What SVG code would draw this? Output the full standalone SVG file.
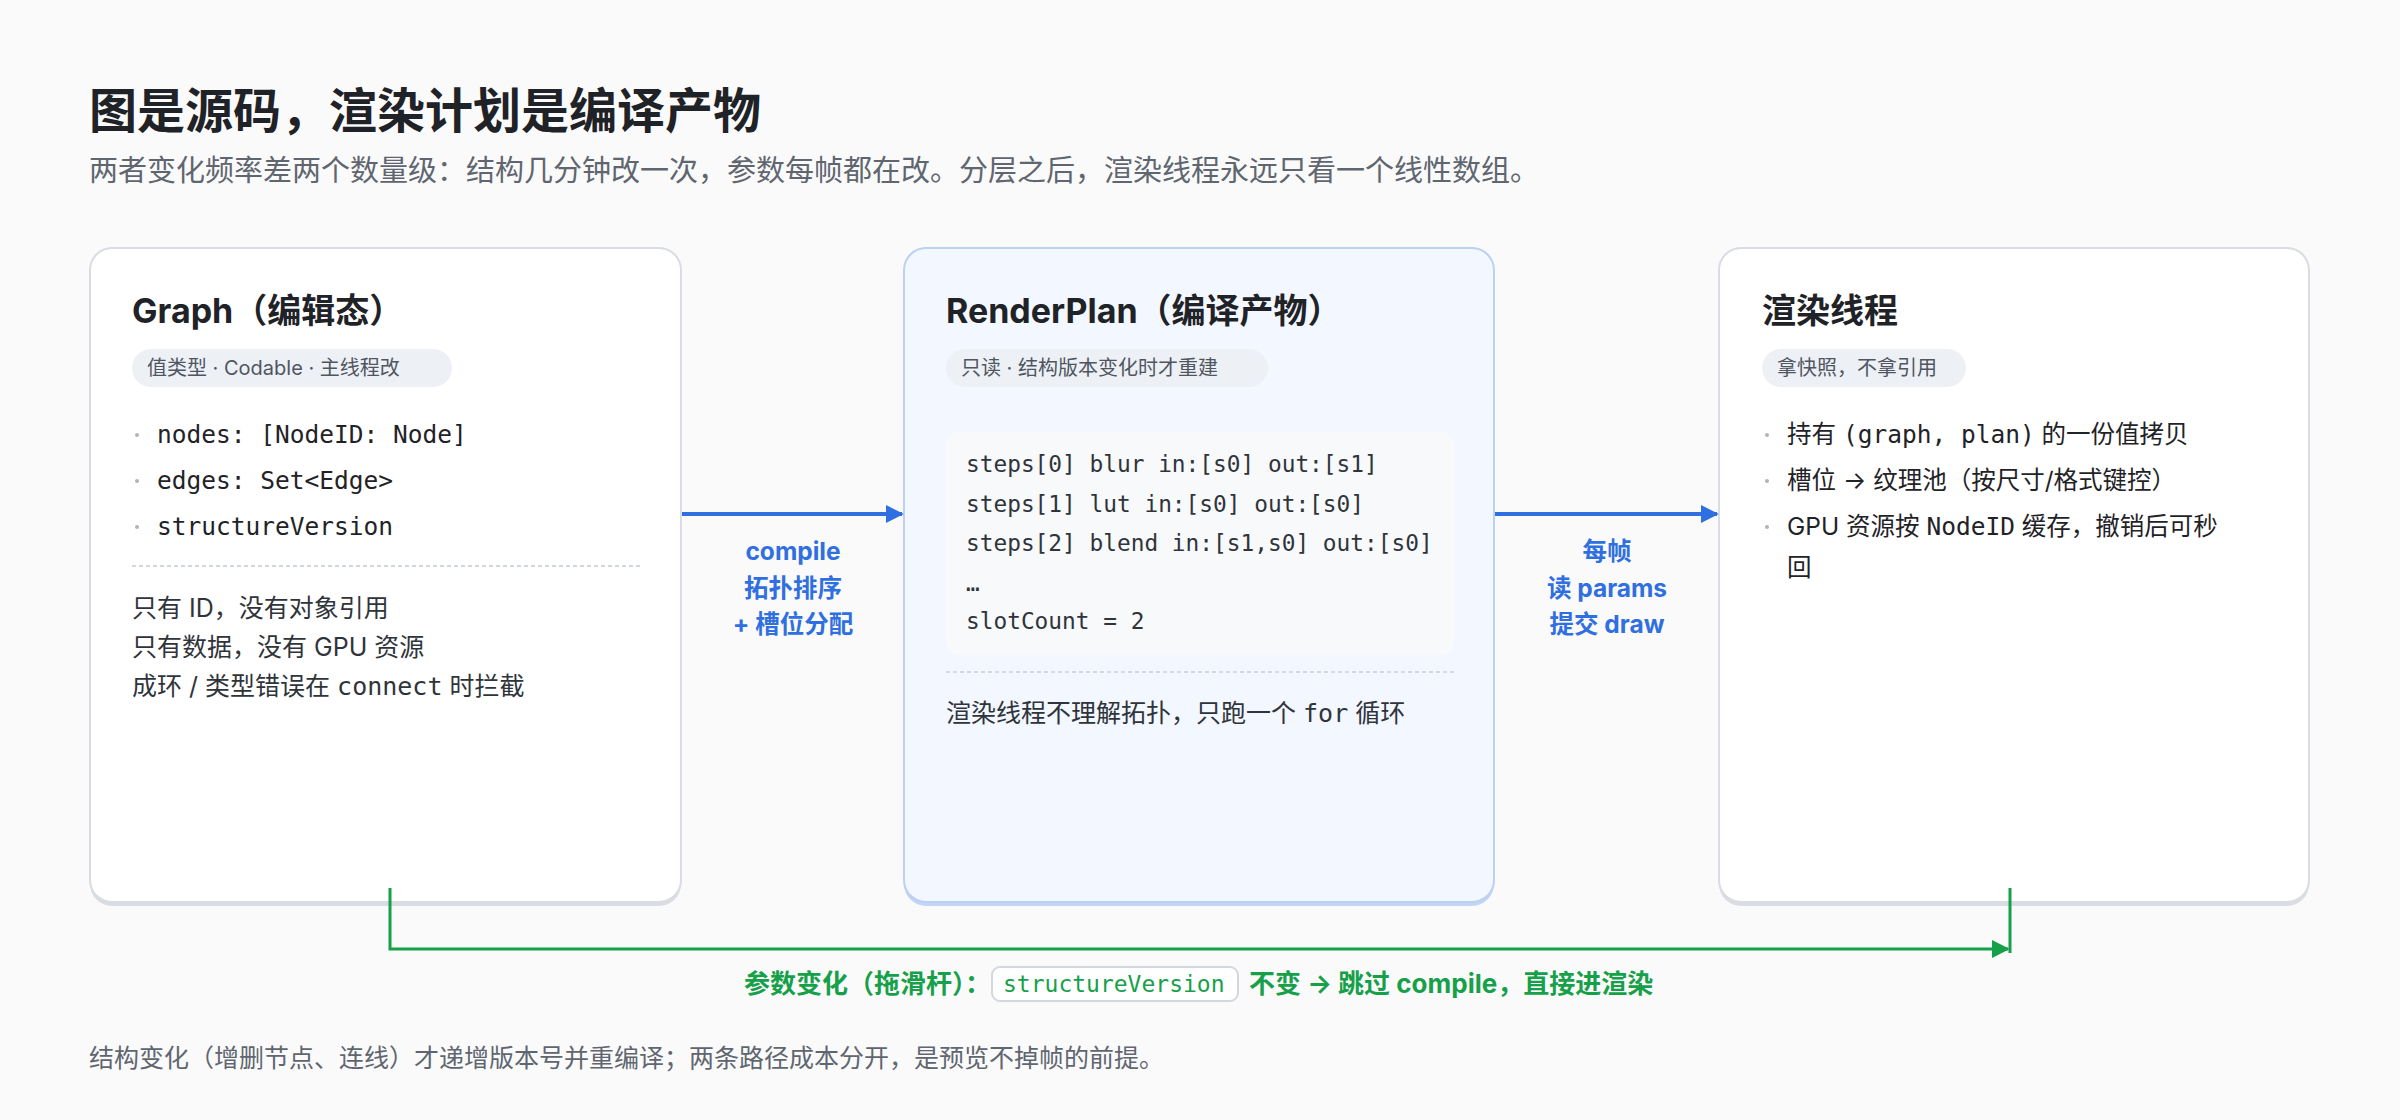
<svg xmlns="http://www.w3.org/2000/svg" width="2400" height="1120" viewBox="0 0 2400 1120">
<style>
.sans{font-family:Inter,"Noto Sans CJK SC",sans-serif}
.mono{font-family:"DejaVu Sans Mono","Noto Sans CJK SC",monospace}
.h{font-size:34px;font-weight:700;fill:#1f2328}
.pill{fill:#edf0f5}
.pt{font-size:20px;fill:#4f5662}
.b{font-size:24.5px;fill:#1f2328}
.dot{fill:#b0b5bd}
.note{font-size:25px;fill:#2f343b}
.code{font-size:22.8px;fill:#2f343b}
.sep{stroke:#d3d7de;stroke-width:2;stroke-dasharray:4 3}
.bl{font-size:24.5px;font-weight:700;fill:#2f6fe0;text-anchor:middle}
.gl{font-size:26px;font-weight:700;fill:#16a04a}
</style>
<defs>
<marker id="ab" viewBox="0 0 10 10" refX="9" refY="5" markerWidth="18" markerHeight="18" markerUnits="userSpaceOnUse" orient="auto"><path d="M0 0L10 5L0 10z" fill="#2f6fe0"/></marker>
<marker id="ag" viewBox="0 0 10 10" refX="9" refY="5" markerWidth="18" markerHeight="18" markerUnits="userSpaceOnUse" orient="auto"><path d="M0 0L10 5L0 10z" fill="#16a04a"/></marker>
</defs>
<rect width="2400" height="1120" fill="#fafafa"/>
<text x="89" y="128" class="sans" font-size="48" font-weight="700" fill="#1f2328">图是源码，渲染计划是编译产物</text>
<text x="89" y="181" class="sans" font-size="29" fill="#5f6670">两者变化频率差两个数量级：结构几分钟改一次，参数每帧都在改。分层之后，渲染线程永远只看一个线性数组。</text>

<g id="graph">
<rect x="90" y="252" width="591" height="654" rx="22" fill="#d9dce3"/>
<rect x="90" y="248" width="591" height="654" rx="22" fill="#fff" stroke="#d9dce3" stroke-width="2"/>
<text x="132" y="323" class="sans h">Graph（编辑态）</text>
<rect x="132" y="349" width="320" height="38" rx="19" class="pill"/>
<text x="147" y="375" class="sans pt">值类型 · Codable · 主线程改</text>
<circle cx="137" cy="435" r="2" class="dot"/><text x="157" y="443" class="mono b">nodes: [NodeID: Node]</text>
<circle cx="137" cy="481" r="2" class="dot"/><text x="157" y="489" class="mono b">edges: Set&lt;Edge&gt;</text>
<circle cx="137" cy="527" r="2" class="dot"/><text x="157" y="535" class="mono b">structureVersion</text>
<line x1="132" y1="566" x2="640" y2="566" class="sep"/>
<text x="132" y="617" class="sans note">只有 ID，没有对象引用</text>
<text x="132" y="656" class="sans note">只有数据，没有 GPU 资源</text>
<text x="132" y="695" class="sans note">成环 / 类型错误在 <tspan class="mono">connect</tspan> 时拦截</text>
</g>

<g id="renderplan">
<rect x="904" y="252" width="590" height="654" rx="22" fill="#c3d5f5"/>
<rect x="904" y="248" width="590" height="654" rx="22" fill="#f3f7ff" stroke="#bcd0f5" stroke-width="2"/>
<text x="946" y="323" class="sans h">RenderPlan（编译产物）</text>
<rect x="946" y="349" width="322" height="38" rx="19" class="pill"/>
<text x="961" y="375" class="sans pt">只读 · 结构版本变化时才重建</text>
<rect x="946" y="432" width="508" height="223" rx="14" fill="#f8f9fb"/>
<text x="966" y="472" class="mono code">steps[0] blur in:[s0] out:[s1]</text>
<text x="966" y="512" class="mono code">steps[1] lut in:[s0] out:[s0]</text>
<text x="966" y="551" class="mono code">steps[2] blend in:[s1,s0] out:[s0]</text>
<text x="966" y="591" class="mono code">…</text>
<text x="966" y="629" class="mono code">slotCount = 2</text>
<line x1="946" y1="672" x2="1454" y2="672" class="sep"/>
<text x="946" y="722" class="sans note">渲染线程不理解拓扑，只跑一个 <tspan class="mono">for</tspan> 循环</text>
</g>

<g id="renderthread">
<rect x="1719" y="252" width="590" height="654" rx="22" fill="#d9dce3"/>
<rect x="1719" y="248" width="590" height="654" rx="22" fill="#fff" stroke="#d9dce3" stroke-width="2"/>
<text x="1762" y="323" class="sans h">渲染线程</text>
<rect x="1762" y="349" width="204" height="38" rx="19" class="pill"/>
<text x="1777" y="375" class="sans pt">拿快照，不拿引用</text>
<circle cx="1767" cy="435" r="2" class="dot"/><text x="1787" y="443" class="sans b">持有 <tspan class="mono">(graph, plan)</tspan> 的一份值拷贝</text>
<circle cx="1767" cy="481" r="2" class="dot"/><text x="1787" y="489" class="sans b">槽位 → 纹理池（按尺寸/格式键控）</text>
<circle cx="1767" cy="527" r="2" class="dot"/><text x="1787" y="535" class="sans b">GPU 资源按 <tspan class="mono">NodeID</tspan> 缓存，撤销后可秒</text>
<text x="1787" y="576" class="sans b">回</text>
</g>

<g id="connectors">
<line x1="682" y1="514" x2="902" y2="514" stroke="#2f6fe0" stroke-width="4" marker-end="url(#ab)"/>
<text x="793" y="560" class="sans bl">compile</text>
<text x="793" y="597" class="sans bl">拓扑排序</text>
<text x="793" y="633" class="sans bl">+ 槽位分配</text>
<line x1="1495" y1="514" x2="1717" y2="514" stroke="#2f6fe0" stroke-width="4" marker-end="url(#ab)"/>
<text x="1607" y="560" class="sans bl">每帧</text>
<text x="1607" y="597" class="sans bl">读 params</text>
<text x="1607" y="633" class="sans bl">提交 draw</text>
<path d="M390 888V949H2008" fill="none" stroke="#16a04a" stroke-width="3" marker-end="url(#ag)"/>
<line x1="2010" y1="888" x2="2010" y2="953" stroke="#16a04a" stroke-width="3"/>
<text x="744" y="993" class="sans gl">参数变化（拖滑杆）：</text>
<rect x="992" y="967" width="246" height="34" rx="8" fill="#fff" stroke="#d3d7de" stroke-width="2"/>
<text x="1003" y="992" class="mono" font-size="23" fill="#16a04a">structureVersion</text>
<text x="1249" y="993" class="sans gl">不变 → 跳过 compile，直接进渲染</text>
</g>
<text x="89" y="1067" class="sans" font-size="25" fill="#5f6670">结构变化（增删节点、连线）才递增版本号并重编译；两条路径成本分开，是预览不掉帧的前提。</text>
</svg>
